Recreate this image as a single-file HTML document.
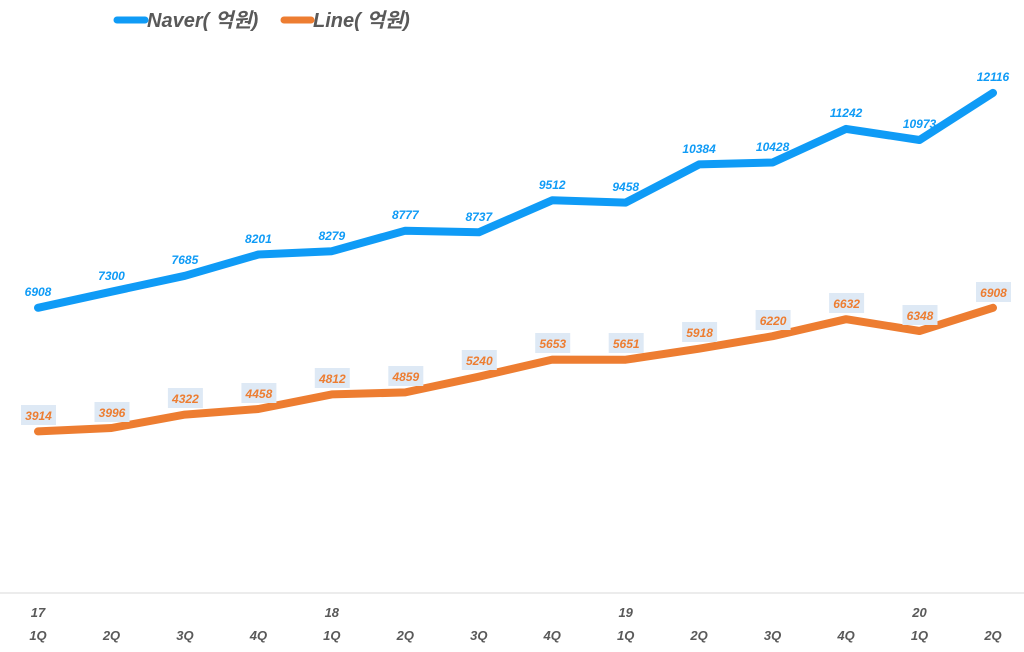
<!DOCTYPE html>
<html><head><meta charset="utf-8"><style>
body{margin:0;background:#fff}
svg text{font-family:"Liberation Sans","Noto Sans CJK KR",sans-serif;font-weight:bold;font-style:italic}
</style></head><body>
<svg width="1024" height="647" xmlns="http://www.w3.org/2000/svg">
<line x1="0" y1="593" x2="1024" y2="593" stroke="#d9d9d9" stroke-width="1"/>
<line x1="117" y1="20" x2="145" y2="20" stroke="#0f9bf6" stroke-width="7" stroke-linecap="round"/>
<text x="147" y="27" font-size="20" fill="#595959">Naver( 억원)</text>
<line x1="284" y1="20" x2="311" y2="20" stroke="#ed7d31" stroke-width="7" stroke-linecap="round"/>
<text x="313" y="27" font-size="20" fill="#595959">Line( 억원)</text>
<polyline fill="none" stroke="#0f9bf6" stroke-width="8" stroke-linecap="round" stroke-linejoin="round" points="38,307.8 111.5,291.7 184.9,275.8 258.4,254.5 331.8,251.2 405.3,230.7 478.8,232.3 552.2,200.3 625.7,202.6 699.1,164.4 772.6,162.5 846.1,128.9 919.5,140 993,92.9"/>
<polyline fill="none" stroke="#ed7d31" stroke-width="8" stroke-linecap="round" stroke-linejoin="round" points="38,431.4 111.5,428 184.9,414.6 258.4,409 331.8,394.4 405.3,392.4 478.8,376.7 552.2,359.6 625.7,359.7 699.1,348.7 772.6,336.2 846.1,319.2 919.5,331 993,307.8"/>
<g font-size="12" fill="#0f9bf6" text-anchor="middle">
<text x="38" y="296">6908</text><text x="111.5" y="280">7300</text><text x="184.9" y="264">7685</text><text x="258.4" y="243">8201</text><text x="331.8" y="240">8279</text><text x="405.3" y="219">8777</text><text x="478.8" y="221">8737</text><text x="552.2" y="189">9512</text><text x="625.7" y="191">9458</text><text x="699.1" y="153">10384</text><text x="772.6" y="151">10428</text><text x="846.1" y="117">11242</text><text x="919.5" y="128">10973</text><text x="993" y="81">12116</text>
</g>
<g fill="#dee9f5">
<rect x="21" y="405" width="35" height="20"/><rect x="94.5" y="402" width="35" height="20"/><rect x="167.9" y="388" width="35" height="20"/><rect x="241.4" y="383" width="35" height="20"/><rect x="314.8" y="368" width="35" height="20"/><rect x="388.3" y="366" width="35" height="20"/><rect x="461.8" y="350" width="35" height="20"/><rect x="535.2" y="333" width="35" height="20"/><rect x="608.7" y="333" width="35" height="20"/><rect x="682.1" y="322" width="35" height="20"/><rect x="755.6" y="310" width="35" height="20"/><rect x="829.1" y="293" width="35" height="20"/><rect x="902.5" y="305" width="35" height="20"/><rect x="976" y="282" width="35" height="20"/>
</g>
<g font-size="12" fill="#ed7d31" text-anchor="middle">
<text x="38.5" y="420">3914</text><text x="112" y="417">3996</text><text x="185.4" y="403">4322</text><text x="258.9" y="398">4458</text><text x="332.3" y="383">4812</text><text x="405.8" y="381">4859</text><text x="479.3" y="365">5240</text><text x="552.7" y="348">5653</text><text x="626.2" y="348">5651</text><text x="699.6" y="337">5918</text><text x="773.1" y="325">6220</text><text x="846.6" y="308">6632</text><text x="920" y="320">6348</text><text x="993.5" y="297">6908</text>
</g>
<g font-size="13" fill="#595959" text-anchor="middle">
<text x="38" y="617">17</text><text x="331.8" y="617">18</text><text x="625.7" y="617">19</text><text x="919.5" y="617">20</text>
<text x="38" y="640">1Q</text><text x="111.5" y="640">2Q</text><text x="184.9" y="640">3Q</text><text x="258.4" y="640">4Q</text><text x="331.8" y="640">1Q</text><text x="405.3" y="640">2Q</text><text x="478.8" y="640">3Q</text><text x="552.2" y="640">4Q</text><text x="625.7" y="640">1Q</text><text x="699.1" y="640">2Q</text><text x="772.6" y="640">3Q</text><text x="846.1" y="640">4Q</text><text x="919.5" y="640">1Q</text><text x="993" y="640">2Q</text>
</g>
</svg>
</body></html>
